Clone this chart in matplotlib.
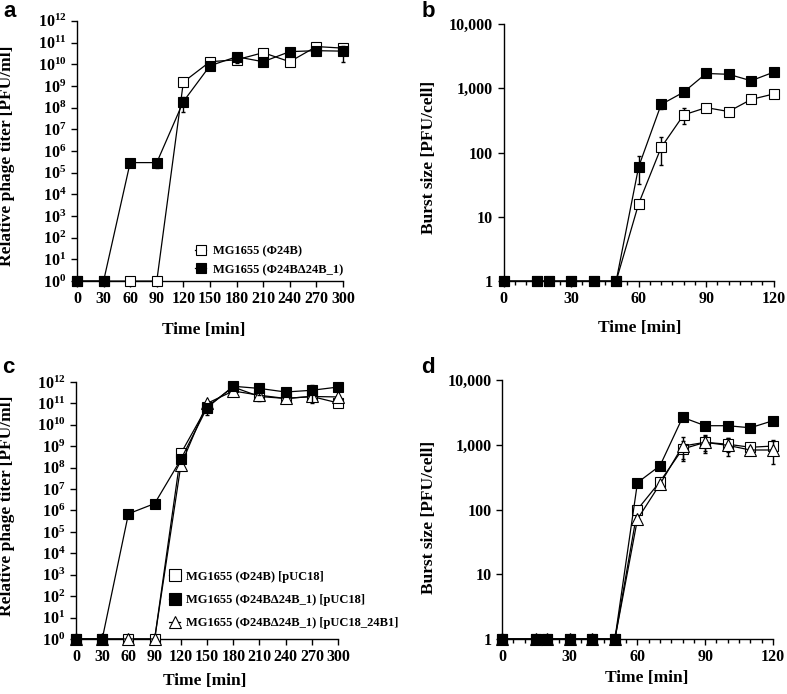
import numpy as np
import matplotlib
matplotlib.use("Agg")
import matplotlib.pyplot as plt
from matplotlib.ticker import FixedLocator, MultipleLocator, FuncFormatter

plt.rcParams['font.family'] = ['Liberation Serif', 'DejaVu Serif']
plt.rcParams['font.weight'] = 'bold'
plt.rcParams['mathtext.fontset'] = 'custom'
plt.rcParams['mathtext.rm'] = 'Liberation Serif:bold'
plt.rcParams['mathtext.it'] = 'Liberation Serif:bold'
plt.rcParams['mathtext.bf'] = 'Liberation Serif:bold'

# ---- panel a: phage titer, 0-300 min ----
t_a = [0, 30, 60, 90, 120, 150, 180, 210, 240, 270, 300]
a_wt = [1, 1, 1, 1, 1.5e9, 1.3e10, 1.6e10, 3.4e10, 1.3e10, 6.5e10, 5.5e10]
a_wt_err = [0, 0, 0, 0, 0, 0, 5e9, 0, 0, 0, 0]
a_mut = [1, 1, 2.9e5, 2.9e5, 1.9e8, 8.5e9, 2.2e10, 1.3e10, 3.8e10, 4.2e10, 4.0e10]
a_mut_err = [0, 0, 0, 1.2e5, 1.3e8, 0, 1.1e10, 0, 0, 0, 2.8e10]

# ---- panel b: burst size, 0-120 min ----
t_b = [0, 15, 20, 30, 40, 50, 60, 70, 80, 90, 100, 110, 120]
b_wt = [1, 1, 1, 1, 1, 1, 16, 120, 385, 500, 435, 670, 815]
b_wt_err = [0, 0, 0, 0, 0, 0, 0, 55, 110, 40, 40, 30, 30]
b_mut = [1, 1, 1, 1, 1, 1, 60, 560, 870, 1700, 1650, 1310, 1780]
b_mut_err = [0, 0, 0, 0, 0, 0, 28, 90, 40, 80, 80, 120, 80]

# ---- panel c: phage titer with plasmids ----
c_wt = [1, 1, 1, 1, 4.6e8, 7e10, 5.8e11, 2.1e11, 1.7e11, 2.1e11, 1.05e11]
c_wt_err = [0, 0, 0, 0, 0, 0, 0, 8e10, 0, 0, 0]
c_mut = [1, 1, 7e5, 2.1e6, 2.4e8, 6.3e10, 6.3e11, 5.0e11, 3.4e11, 4.1e11, 5.8e11]
c_mut_err = [0, 0, 0, 0, 0, 3.5e10, 0, 2.5e11, 0, 3.0e11, 0]
c_comp = [1, 1, 1, 1, 1.3e8, 1.0e11, 3.8e11, 2.4e11, 1.7e11, 2.1e11, 2.0e11]
c_comp_err = [0] * 11

# ---- panel d: burst size with plasmids ----
d_wt = [1, 1, 1, 1, 1, 1, 100, 270, 860, 1090, 1020, 915, 955]
d_wt_err = [0, 0, 0, 0, 0, 0, 0, 0, 300, 300, 250, 100, 250]
d_mut = [1, 1, 1, 1, 1, 1, 260, 475, 2650, 1970, 1970, 1830, 2350]
d_mut_err = [0, 0, 0, 0, 0, 0, 0, 0, 0, 0, 0, 0, 200]
d_comp = [1, 1, 1, 1, 1, 1, 71, 247, 955, 1090, 980, 830, 830]
d_comp_err = [0, 0, 0, 0, 0, 0, 0, 0, 350, 350, 300, 100, 330]

labels_ab = ['MG1655 (Φ24B)', 'MG1655 (Φ24BΔ24B_1)']
labels_cd = ['MG1655 (Φ24B) [pUC18]', 'MG1655 (Φ24BΔ24B_1) [pUC18]',
             'MG1655 (Φ24BΔ24B_1) [pUC18_24B1]']

fig = plt.figure(figsize=(7.87, 6.94), dpi=100)
ax_a = fig.add_axes([0.0978, 0.595, 0.338, 0.375])
ax_b = fig.add_axes([0.640, 0.595, 0.343, 0.3704])
ax_c = fig.add_axes([0.0966, 0.0793, 0.333, 0.3703])
ax_d = fig.add_axes([0.638, 0.0793, 0.344, 0.3731])

styles = {
    'wt': dict(marker='s', ms=7, mfc='white', mec='black', mew=0.8),
    'mut': dict(marker='s', ms=7, mfc='black', mec='black', mew=0.8),
    'comp': dict(marker='^', ms=8, mfc='white', mec='black', mew=0.8),
}


def series(ax, t, y, err, kind, label, z):
    y = np.asarray(y, float)
    err = np.asarray(err, float)
    lo = np.minimum(err, y * 0.8)
    ax.errorbar(t, y, yerr=[lo, err], fmt='none', ecolor='black', elinewidth=1.0,
                capsize=1.5, capthick=1.0, zorder=z, clip_on=False)
    ax.plot(t, y, '-', color='black', lw=0.9, label=label, zorder=z + 0.5,
            clip_on=False, **styles[kind])


def style_axes(ax):
    for s in ['top', 'right']:
        ax.spines[s].set_visible(False)
    for s in ['left', 'bottom']:
        ax.spines[s].set_linewidth(1.0)
    ax.tick_params(axis='both', which='both', direction='out', labelsize=11.5,
                   width=1.0)
    ax.tick_params(axis='both', which='major', length=4)
    ax.tick_params(axis='both', which='minor', length=3)
    ax.set_xlabel('Time [min]', fontsize=12.5, fontweight='bold')


pow_fmt = FuncFormatter(lambda v, p: '$10^{%d}$' % int(round(np.log10(v))))
comma_fmt = FuncFormatter(lambda v, p: '{:,.0f}'.format(v))

# panel a
series(ax_a, t_a, a_wt, a_wt_err, 'wt', labels_ab[0], 3)
series(ax_a, t_a, a_mut, a_mut_err, 'mut', labels_ab[1], 5)
ax_a.set_yscale('log')
ax_a.set_ylim(1, 1e12)
ax_a.set_xlim(0, 300)
ax_a.xaxis.set_major_locator(MultipleLocator(30))
ax_a.yaxis.set_major_locator(FixedLocator([10.0 ** k for k in range(13)]))
ax_a.yaxis.set_minor_locator(FixedLocator([]))
ax_a.yaxis.set_major_formatter(pow_fmt)
style_axes(ax_a)
ax_a.set_ylabel('Relative phage titer [PFU/ml]', fontsize=12.5, fontweight='bold')
ax_a.yaxis.set_label_coords(-0.233, 0.48)
ax_a.xaxis.set_label_coords(0.478, -0.158)
ax_a.legend(loc='lower right', bbox_to_anchor=(1.0, 0.02), frameon=False,
            fontsize=9, handlelength=0.9, handletextpad=0.5, labelspacing=0.55,
            borderaxespad=0, borderpad=0, markerscale=1.1)

# panel b
series(ax_b, t_b, b_wt, b_wt_err, 'wt', labels_ab[0], 3)
series(ax_b, t_b, b_mut, b_mut_err, 'mut', labels_ab[1], 5)
ax_b.set_yscale('log')
ax_b.set_ylim(1, 1e4)
ax_b.set_xlim(0, 120)
ax_b.xaxis.set_major_locator(MultipleLocator(30))
ax_b.xaxis.set_minor_locator(MultipleLocator(5))
ax_b.yaxis.set_major_locator(FixedLocator([1, 10, 100, 1000, 10000]))
ax_b.yaxis.set_minor_locator(FixedLocator([]))
ax_b.yaxis.set_major_formatter(comma_fmt)
style_axes(ax_b)
ax_b.set_ylabel('Burst size [PFU/cell]', fontsize=12.5, fontweight='bold')
ax_b.yaxis.set_label_coords(-0.248, 0.48)
ax_b.xaxis.set_label_coords(0.504, -0.152)

# panel c
series(ax_c, t_a, c_wt, c_wt_err, 'wt', labels_cd[0], 3)
series(ax_c, t_a, c_comp, c_comp_err, 'comp', labels_cd[2], 4)
series(ax_c, t_a, c_mut, c_mut_err, 'mut', labels_cd[1], 5)
ax_c.set_yscale('log')
ax_c.set_ylim(1, 1e12)
ax_c.set_xlim(0, 300)
ax_c.xaxis.set_major_locator(MultipleLocator(30))
ax_c.yaxis.set_major_locator(FixedLocator([10.0 ** k for k in range(13)]))
ax_c.yaxis.set_minor_locator(FixedLocator([]))
ax_c.yaxis.set_major_formatter(pow_fmt)
style_axes(ax_c)
ax_c.set_ylabel('Relative phage titer [PFU/ml]', fontsize=12.5, fontweight='bold')
ax_c.yaxis.set_label_coords(-0.233, 0.52)
ax_c.xaxis.set_label_coords(0.49, -0.132)
h, l = ax_c.get_legend_handles_labels()
order = [l.index(s) for s in labels_cd]
ax_c.legend([h[i] for i in order], [l[i] for i in order], loc='upper left',
            bbox_to_anchor=(0.355, 0.265), frameon=False, fontsize=9,
            handlelength=0.9, handletextpad=0.45, labelspacing=0.9,
            borderaxespad=0, borderpad=0, markerscale=1.15)

# panel d
series(ax_d, t_b, d_wt, d_wt_err, 'wt', labels_cd[0], 3)
series(ax_d, t_b, d_comp, d_comp_err, 'comp', labels_cd[2], 4)
series(ax_d, t_b, d_mut, d_mut_err, 'mut', labels_cd[1], 5)
ax_d.set_yscale('log')
ax_d.set_ylim(1, 1e4)
ax_d.set_xlim(0, 120)
ax_d.xaxis.set_major_locator(MultipleLocator(30))
ax_d.xaxis.set_minor_locator(MultipleLocator(5))
ax_d.yaxis.set_major_locator(FixedLocator([1, 10, 100, 1000, 10000]))
ax_d.yaxis.set_minor_locator(FixedLocator([]))
ax_d.yaxis.set_major_formatter(comma_fmt)
style_axes(ax_d)
ax_d.set_ylabel('Burst size [PFU/cell]', fontsize=12.5, fontweight='bold')
ax_d.yaxis.set_label_coords(-0.24, 0.47)
ax_d.xaxis.set_label_coords(0.535, -0.12)

# panel letters
for txt, x, y in [('a', 0.004, 0.9755), ('b', 0.536, 0.9755),
                  ('c', 0.003, 0.4625), ('d', 0.535, 0.4625)]:
    fig.text(x, y, txt, fontsize=16, fontweight='bold',
             family=['Liberation Sans', 'DejaVu Sans'], va='baseline')

fig.savefig('out.png', dpi=100)
